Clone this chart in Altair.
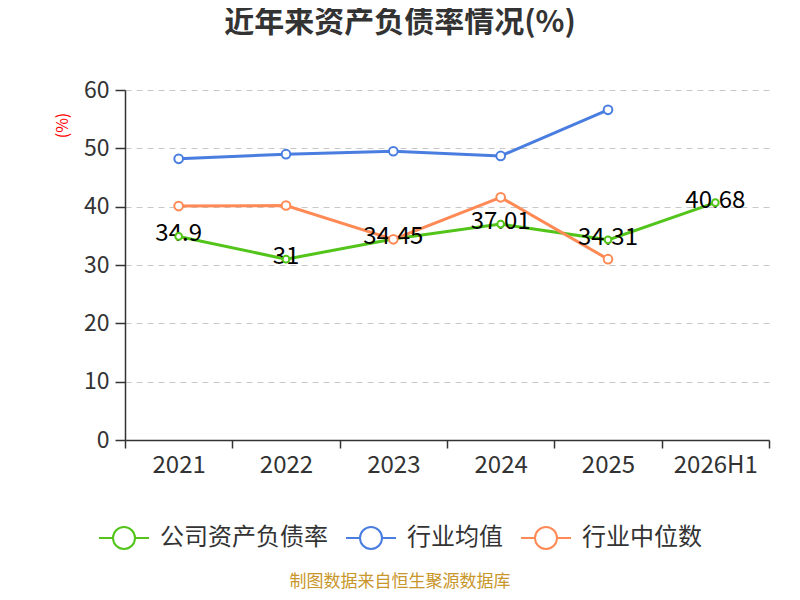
import altair as alt
import pandas as pd

title_text = "近年来资产负债率情况(%)"
footer_text = "制图数据来自恒生聚源数据库"
years = ["2021", "2022", "2023", "2024", "2025", "2026H1"]
series_names = ["公司资产负债率", "行业均值", "行业中位数"]
company = [34.9, 31, 34.45, 37.01, 34.31, 40.68]
industry_avg = [48.2, 49.0, 49.5, 48.7, 56.6]
industry_median = [40.1, 40.2, 34.4, 41.6, 31.0]
colors = ["#52c41a", "#4a7de0", "#ff8a55"]
y_ticks = [0, 10, 20, 30, 40, 50, 60]

rows = []
for name, vals in zip(series_names, [company, industry_avg, industry_median]):
    for y, v in zip(years, vals):
        rows.append({"year": y, "series": name, "value": v})
df = pd.DataFrame(rows)
label_df = pd.DataFrame({"year": years, "value": company,
                         "label": [f"{v:g}" for v in company]})

FONT = "Noto Sans CJK SC"

x_enc = alt.X("year:N", scale=alt.Scale(type="band", domain=years, paddingInner=0, paddingOuter=0),
              axis=alt.Axis(title=None, tickBand="extent", labelAngle=0, labelFontSize=24,
                            labelColor="#333", tickSize=8, tickColor="#333", domainColor="#333",
                            domainWidth=1.5, tickWidth=1.5, labelPadding=5, grid=False,
                            labelFont=FONT))
y_enc = alt.Y("value:Q", scale=alt.Scale(domain=[0, 60], nice=False),
              axis=alt.Axis(title="(%)", titleColor="red", titleFontSize=16, titleFontWeight="normal",
                            titleX=-63, titleY=35, titleAngle=270, titleBaseline="middle",
                            titleAlign="center", titleFont=FONT,
                            values=y_ticks, labelFontSize=23, labelColor="#333", labelFont=FONT,
                            tickSize=10, tickColor="#333", domainColor="#333", domainWidth=1.5,
                            tickWidth=1.5, labelPadding=6,
                            grid=True, gridColor="#c8c8c8", gridDash=[6, 5], gridWidth=1.2))

color_scale = alt.Scale(domain=series_names, range=colors)

legend_path = "M-1,0L-0.44,0M0.44,0L1,0M0.44,0A0.44,0.44 0 1,1 -0.44,0A0.44,0.44 0 1,1 0.44,0Z"

base = alt.Chart(df)

lines = base.mark_line(strokeWidth=3).encode(
    x=x_enc, y=y_enc,
    color=alt.Color("series:N", scale=color_scale, sort=series_names,
                    legend=alt.Legend(title=None, orient="none", direction="horizontal",
                                      legendX=-27, legendY=422, symbolType=legend_path,
                                      symbolSize=2500, symbolStrokeWidth=2,
                                      symbolFillColor="white", labelFontSize=24,
                                      labelColor="#333", labelFont=FONT, labelOffset=10,
                                      columnPadding=14, labelLimit=400)),
)

points_company = base.transform_filter(alt.datum.series == series_names[0]).mark_circle(
    opacity=1, strokeWidth=2, fill="white", size=45).encode(
    x=x_enc, y=y_enc,
    stroke=alt.Stroke("series:N", scale=color_scale, legend=None),
)
points_industry = base.transform_filter(alt.datum.series != series_names[0]).mark_circle(
    opacity=1, strokeWidth=2, fill="white", size=75).encode(
    x=x_enc, y=y_enc,
    stroke=alt.Stroke("series:N", scale=color_scale, legend=None),
)

labels = alt.Chart(label_df).mark_text(fontSize=24, color="black", baseline="middle", dy=-2,
                                       font=FONT).encode(
    x=x_enc, y=y_enc, text="label:N")

title = alt.Chart(pd.DataFrame({"t": [title_text]})).mark_text(
    fontSize=30, fontWeight="bold", color="#333", font=FONT, baseline="middle").encode(
    x=alt.value(275), y=alt.value(-67), text="t:N")

footer = alt.Chart(pd.DataFrame({"t": [footer_text]})).mark_text(
    fontSize=17, color="#c8962a", font=FONT).encode(
    x=alt.value(275), y=alt.value(492), text="t:N")

chart = alt.layer(lines, labels, points_company, points_industry, title, footer).properties(
    width=644, height=350,
    padding={"left": 117, "top": 82, "right": 23, "bottom": 152},
    autosize=alt.AutoSizeParams(type="none"),
).configure_view(stroke=None)

chart.save("out.html", embed_options={"renderer": "svg", "actions": False})
